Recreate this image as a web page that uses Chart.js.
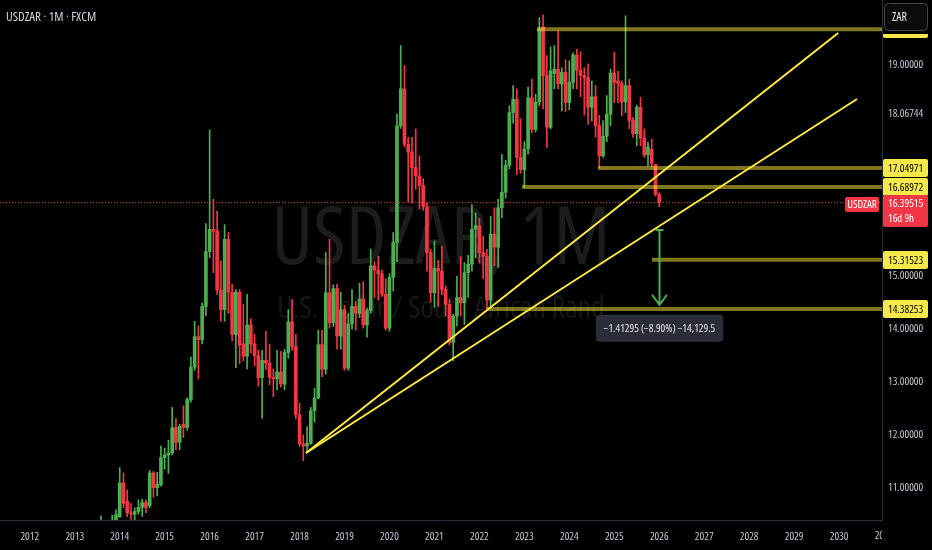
<!DOCTYPE html>
<html><head><meta charset="utf-8">
<script src="https://cdn.jsdelivr.net/npm/chart.js@4.4.1/dist/chart.umd.min.js"></script>
<style>html,body{margin:0;padding:0;background:#000;overflow:hidden}canvas{display:block}</style>
</head><body>
<canvas id="c" width="932" height="550"></canvas>
<script>
// ---------- data ----------
const months = [
'2013-01','2013-02','2013-03','2013-04','2013-05','2013-06','2013-07','2013-08','2013-09','2013-10','2013-11','2013-12',
'2014-01','2014-02','2014-03','2014-04','2014-05','2014-06','2014-07','2014-08','2014-09','2014-10','2014-11','2014-12',
'2015-01','2015-02','2015-03','2015-04','2015-05','2015-06','2015-07','2015-08','2015-09','2015-10','2015-11','2015-12',
'2016-01','2016-02','2016-03','2016-04','2016-05','2016-06','2016-07','2016-08','2016-09','2016-10','2016-11','2016-12',
'2017-01','2017-02','2017-03','2017-04','2017-05','2017-06','2017-07','2017-08','2017-09','2017-10','2017-11','2017-12',
'2018-01','2018-02','2018-03','2018-04','2018-05','2018-06','2018-07','2018-08','2018-09','2018-10','2018-11','2018-12',
'2019-01','2019-02','2019-03','2019-04','2019-05','2019-06','2019-07','2019-08','2019-09','2019-10','2019-11','2019-12',
'2020-01','2020-02','2020-03','2020-04','2020-05','2020-06','2020-07','2020-08','2020-09','2020-10','2020-11','2020-12',
'2021-01','2021-02','2021-03','2021-04','2021-05','2021-06','2021-07','2021-08','2021-09','2021-10','2021-11','2021-12',
'2022-01','2022-02','2022-03','2022-04','2022-05','2022-06','2022-07','2022-08','2022-09','2022-10','2022-11','2022-12',
'2023-01','2023-02','2023-03','2023-04','2023-05','2023-06','2023-07','2023-08','2023-09','2023-10','2023-11','2023-12',
'2024-01','2024-02','2024-03','2024-04','2024-05','2024-06','2024-07','2024-08','2024-09','2024-10','2024-11','2024-12',
'2025-01','2025-02','2025-03','2025-04','2025-05','2025-06','2025-07','2025-08','2025-09','2025-10','2025-11','2025-12',
'2026-01'];
const openP = [
8.48,8.94,8.98,9.21,8.99,10.08,9.90,9.87,10.28,10.04,9.93,10.30,
10.45,11.09,10.74,10.52,10.50,10.55,10.63,10.72,10.66,11.28,11.00,11.05,
11.57,11.62,11.66,12.14,11.86,12.20,12.14,12.67,13.28,13.86,13.80,14.43,
15.47,15.89,15.86,14.74,14.37,15.70,14.70,13.90,14.70,13.72,13.49,14.08,
13.72,13.50,13.08,13.41,13.36,13.09,13.06,13.19,12.96,13.56,14.14,13.67,
12.38,11.83,11.79,11.84,12.46,12.70,13.71,13.24,14.69,14.12,14.77,13.87,
14.37,13.26,14.10,14.43,14.30,14.57,14.08,14.35,15.20,15.12,15.05,14.66,
14.02,14.98,15.64,17.85,18.55,17.50,17.35,17.06,16.90,16.72,16.32,15.45,
14.69,15.15,15.10,14.75,14.47,13.75,14.25,14.60,14.50,15.07,15.23,15.89,
15.96,15.45,15.38,14.55,15.80,15.55,16.30,16.59,17.10,18.10,18.35,17.25,
17.02,17.41,18.38,17.78,18.30,19.72,18.80,17.82,18.84,18.92,18.64,18.86,
18.29,18.67,19.19,18.90,18.80,18.76,18.20,18.40,17.85,17.28,17.65,18.07,
18.85,18.70,18.65,18.30,18.61,17.95,17.70,18.20,17.62,17.30,17.40,17.12,
16.55];
const highP = [
9.08,9.02,9.40,9.37,10.20,10.36,10.20,10.47,10.38,10.25,10.48,10.58,
11.38,11.28,10.96,10.70,10.62,10.77,10.78,10.77,11.33,11.31,11.29,11.79,
11.75,11.90,12.52,12.31,12.20,12.55,12.70,13.47,14.15,14.06,14.50,16.00,
17.77,16.46,16.23,15.29,15.98,15.83,14.85,14.75,14.75,14.47,14.66,14.20,
13.90,13.60,13.60,13.96,13.72,13.25,13.60,13.58,13.62,14.37,14.56,13.90,
12.60,12.00,12.15,12.52,12.88,13.98,13.98,15.45,15.70,14.84,14.85,14.70,
14.45,14.30,14.75,14.52,14.87,14.90,14.40,15.51,15.28,15.38,15.12,14.95,
15.05,15.83,18.07,19.37,18.99,17.63,17.63,17.79,17.28,16.85,16.40,15.51,
15.67,15.30,15.57,14.82,14.56,14.28,15.00,15.38,15.26,15.40,16.36,16.20,
16.10,15.76,15.51,16.14,16.30,16.46,17.31,17.20,18.23,18.61,18.55,17.98,
17.55,18.58,18.73,18.45,19.90,19.95,19.18,19.34,19.37,19.65,18.95,19.10,
19.08,19.23,19.30,19.25,18.95,19.02,18.70,18.61,18.05,17.95,18.42,18.92,
19.24,18.88,18.70,19.93,18.73,18.01,18.24,18.39,17.79,17.54,17.60,17.12,
16.58];
const lowP = [
8.45,8.73,8.95,8.95,8.98,9.70,9.72,9.80,9.76,9.69,9.93,10.04,
10.44,10.62,10.45,10.40,10.27,10.50,10.46,10.53,10.62,10.82,10.85,11.03,
11.35,11.27,11.62,11.72,11.72,11.95,12.09,12.62,13.22,13.06,13.72,14.25,
15.35,15.07,14.66,14.15,14.15,14.30,13.78,13.27,13.35,13.40,13.25,13.55,
13.31,12.92,12.31,13.24,12.95,12.72,12.85,12.90,12.85,13.45,13.60,12.30,
11.78,11.51,11.68,11.82,12.24,12.68,13.10,13.15,14.02,14.05,13.62,13.62,
13.22,13.22,14.00,13.98,14.22,14.02,13.85,14.30,14.60,14.55,14.62,13.98,
13.96,14.72,15.28,17.80,17.45,16.40,16.38,16.65,16.27,16.25,15.10,14.51,
14.41,14.43,14.65,14.25,13.70,13.40,14.06,14.25,14.09,14.60,15.10,15.35,
15.25,14.95,14.3825,14.40,15.20,15.17,16.11,16.48,17.03,17.90,16.93,16.95,
16.69,17.31,17.72,17.73,18.23,18.17,17.44,17.79,18.55,18.55,18.13,18.12,
18.15,18.55,18.55,18.40,18.05,17.88,17.94,17.63,17.0497,17.25,17.55,17.85,
18.29,18.28,18.04,18.10,17.79,17.63,17.47,17.47,17.25,17.09,17.07,16.52,
16.32];
const closeP = [
8.94,8.98,9.21,8.99,10.08,9.90,9.87,10.28,10.04,9.93,10.30,10.49,
11.09,10.70,10.52,10.50,10.55,10.63,10.72,10.62,11.28,11.00,11.07,11.57,
11.62,11.66,12.14,11.86,12.16,12.14,12.67,13.28,13.86,13.80,14.43,15.47,
15.89,15.85,14.74,14.37,15.70,14.70,13.90,14.70,13.70,13.49,14.08,13.72,
13.50,13.08,13.41,13.36,13.09,13.06,13.19,12.96,13.56,14.14,13.67,12.38,
11.83,11.79,11.84,12.46,12.70,13.71,13.24,14.69,14.12,14.77,13.87,14.37,
13.26,14.10,14.43,14.30,14.57,14.08,14.35,15.20,15.12,15.05,14.66,14.02,
14.98,15.64,17.85,18.55,17.50,17.35,17.06,16.90,16.72,16.32,15.45,14.69,
15.15,15.10,14.75,14.47,13.75,14.25,14.60,14.50,15.07,15.23,15.89,15.96,
15.45,15.38,14.55,15.80,15.55,16.30,16.59,17.10,18.10,18.35,17.25,17.02,
17.41,18.38,17.78,18.30,19.68,18.80,17.82,18.89,18.92,18.64,18.86,18.29,
18.67,19.19,18.90,18.80,18.76,18.20,18.40,17.85,17.28,17.65,18.07,18.85,
18.67,18.65,18.30,18.61,17.95,17.70,18.20,17.62,17.30,17.45,17.14,16.55,
16.39515];

const yearTicks = [2012,2013,2014,2015,2016,2017,2018,2019,2020,2021,2022,2023,2024,2025,2026,2027,2028,2029,2030];
const priceTicks = [11,12,13,14,15,16,17,18.06744,19];
const levelValues = [19.675, 17.04971, 16.68972, 15.31523, 14.38253];
const levelStarts = [2023.28, 2024.64, 2022.95, 2025.84, 2022.17];
const trendDates = [[2018.143, 2029.98], [2018.143, 2030.40]];
const trendValues = [[11.657, 19.606], [11.657, 18.357]];
const lastPrice = 16.39515;
const measureDate = 2026.0;
const measureFrom = 15.876;
const measureTo = 14.463;
const measureText = '\u22121.41295 (\u22128.90%) \u221214,129.5';
const titleText = 'USDZAR \u00b7 1M \u00b7 FXCM';
const watermarkTitle = 'USDZAR, 1M';
const watermarkSub = 'U.S. Dollar / South African Rand';

// ---------- build ----------
const X_MIN = 2011.3372, X_MAX = 2030.9546, Y_MIN = 10.389, Y_MAX = 20.230;
const UP = '#4caf50', DOWN = '#f23645';
const FAM = '"Open Sans", sans-serif';
const cf = px => 'condensed ' + px + 'px ' + FAM;
const toYear = s => { const [y, m] = s.split('-').map(Number); return y + (m - 1) / 12; };
const xs = months.map(toYear);
const cols = closeP.map((c, i) => c >= openP[i] ? UP : DOWN);

const datasets = [
  { type:'bar', label:'wick', data: xs.map((x,i)=>({x, y:[lowP[i], highP[i]]})),
    backgroundColor: cols, barThickness: 1, grouped:false, order: 20, minBarLength: 1 },
  { type:'bar', label:'body', data: xs.map((x,i)=>({x, y:[Math.min(openP[i],closeP[i]), Math.max(openP[i],closeP[i])]})),
    backgroundColor: cols, barThickness: 3, grouped:false, order: 19, minBarLength: 1 },
  { type:'line', label:'last', data:[{x:X_MIN,y:lastPrice},{x:X_MAX,y:lastPrice}],
    borderColor: DOWN, borderWidth: 1, borderDash:[1,2], pointRadius:0, order: 8 }
];
levelValues.forEach((v,i)=>datasets.push({ type:'line', label:'lvl'+i,
  data:[{x:levelStarts[i], y:v},{x:X_MAX, y:v}], borderColor:'rgba(255,235,59,0.5)', borderWidth:4,
  pointRadius:0, order:6 }));
trendDates.forEach((d,i)=>datasets.push({ type:'line', label:'trend'+i,
  data:[{x:d[0], y:trendValues[i][0]},{x:d[1], y:trendValues[i][1]}], borderColor:'#ffeb3b', borderWidth:2,
  pointRadius:0, order:4 }));

function box(ctx, x, y, w, h, r, fill, stroke){
  ctx.beginPath(); ctx.roundRect(x, y, w, h, r);
  if (fill){ ctx.fillStyle = fill; ctx.fill(); }
  if (stroke){ ctx.strokeStyle = stroke; ctx.lineWidth = 1; ctx.stroke(); }
}

const overlay = {
  id:'overlay',
  beforeDatasetsDraw(chart){
    const {ctx, chartArea:a} = chart;
    ctx.save();
    ctx.beginPath(); ctx.rect(a.left, a.top, a.right-a.left, a.bottom-a.top); ctx.clip();
    const cx = (a.left + a.right) / 2;
    ctx.textAlign = 'center'; ctx.textBaseline = 'alphabetic';
    ctx.fillStyle = '#1c1c1c';
    ctx.font = cf(80);
    ctx.fillText(watermarkTitle, cx, 264);
    ctx.fillStyle = '#171717';
    ctx.font = cf(30);
    ctx.fillText(watermarkSub, cx, 318);
    ctx.restore();
  },
  afterDatasetsDraw(chart){
    const {ctx, scales:{x, y}} = chart;
    const px = Math.round(x.getPixelForValue(measureDate)) + 0.5;
    const y1 = y.getPixelForValue(measureFrom), y2 = y.getPixelForValue(measureTo);
    ctx.save();
    ctx.strokeStyle = '#4caf50'; ctx.lineWidth = 2;
    ctx.beginPath();
    ctx.moveTo(px, y1); ctx.lineTo(px, y2);
    ctx.moveTo(px-4, y1); ctx.lineTo(px+4, y1);
    ctx.moveTo(px-7.5, y2-10); ctx.lineTo(px, y2); ctx.lineTo(px+7.5, y2-10);
    ctx.stroke();
    ctx.font = cf(11);
    const tw = ctx.measureText(measureText).width;
    const bw = tw + 16, bh = 27, bx = px - bw/2, by = y2 + 10;
    box(ctx, bx, by, bw, bh, 4, '#2a2e39');
    ctx.fillStyle = '#e1e3ea'; ctx.textAlign='center'; ctx.textBaseline='middle';
    ctx.fillText(measureText, px, by + bh/2 + 0.5);
    ctx.restore();
  },
  afterDraw(chart){
    const {ctx, chartArea:a, scales:{x, y}} = chart;
    ctx.save();
    ctx.font = cf(13); ctx.fillStyle = '#d1d4dc';
    ctx.textAlign='left'; ctx.textBaseline='middle';
    ctx.fillText(titleText, 6, 17);
    // partial next-year label, clipped at pane edge
    ctx.save();
    ctx.beginPath(); ctx.rect(0, a.bottom, a.right, 30); ctx.clip();
    ctx.font = cf(11); ctx.fillStyle = '#c3c6ce'; ctx.textAlign='center';
    const nx = yearTicks[yearTicks.length-1] + 1;
    ctx.fillText(String(nx), x.getPixelForValue(nx), 536);
    ctx.restore();
    // level labels on the price axis
    ctx.font = cf(11); ctx.textAlign='left'; ctx.textBaseline='middle';
    levelValues.forEach(v=>{
      const py = Math.round(y.getPixelForValue(v));
      box(ctx, a.right+1, py-9, 45, 18, 2, '#f5e94a');
      ctx.fillStyle = '#000';
      ctx.fillText(v.toFixed(5), a.right+6, py+0.5);
    });
    // last price label
    const ly = Math.round(y.getPixelForValue(lastPrice));
    box(ctx, a.right+1, ly-8, 45, 32, 2, '#f23645');
    ctx.fillStyle = '#ffffff';
    ctx.fillText(lastPrice.toFixed(5), a.right+6, ly+0.5);
    ctx.fillText('16d 9h', a.right+6, ly+16);
    box(ctx, 845, ly-6, 34, 15, 2, '#f23645');
    ctx.fillStyle = '#ffffff'; ctx.textAlign='center';
    ctx.fillText('USDZAR', 862, ly+1.5);
    // currency button (covers the top level label, leaving its lower edge)
    ctx.fillStyle = '#000'; ctx.fillRect(a.right+1, 0, 50, 34);
    box(ctx, a.right+2.5, 3.5, 43, 27, 4, '#0b0b0b', '#434651');
    ctx.fillStyle = '#e6e6e6'; ctx.font = cf(12); ctx.textAlign='left';
    ctx.fillText('ZAR', a.right+10, 18);
    ctx.restore();
  }
};

new Chart(document.getElementById('c'), {
  type:'bar',
  data:{ datasets },
  options:{
    responsive:false, animation:false, maintainAspectRatio:false,
    layout:{ padding:0 },
    plugins:{ legend:{display:false}, tooltip:{enabled:false} },
    scales:{
      x:{ type:'linear', min:X_MIN, max:X_MAX, offset:false,
          grid:{ display:false, drawTicks:false },
          border:{ display:true, color:'#2a2e39', width:1 },
          afterBuildTicks: s => { s.ticks = yearTicks.map(v=>({value:v})); },
          afterFit: s => { s.height = 30; s.paddingLeft = 0; s.paddingRight = 0; },
          ticks:{ autoSkip:false, maxRotation:0, padding:10, color:'#c3c6ce',
                  font:{ family:FAM, size:11, weight:'condensed' }, callback: v => String(v) } },
      y:{ type:'linear', position:'right', min:Y_MIN, max:Y_MAX,
          grid:{ display:false, drawTicks:false },
          border:{ display:true, color:'#2a2e39', width:1 },
          afterBuildTicks: s => { s.ticks = priceTicks.map(v=>({value:v})); },
          afterFit: s => { s.width = 50; s.paddingTop = 0; s.paddingBottom = 0; },
          ticks:{ autoSkip:false, padding:6, color:'#c3c6ce',
                  font:{ family:FAM, size:11, weight:'condensed' }, callback: v => Number(v).toFixed(5) } }
    }
  },
  plugins:[overlay]
});
</script>
</body></html>
